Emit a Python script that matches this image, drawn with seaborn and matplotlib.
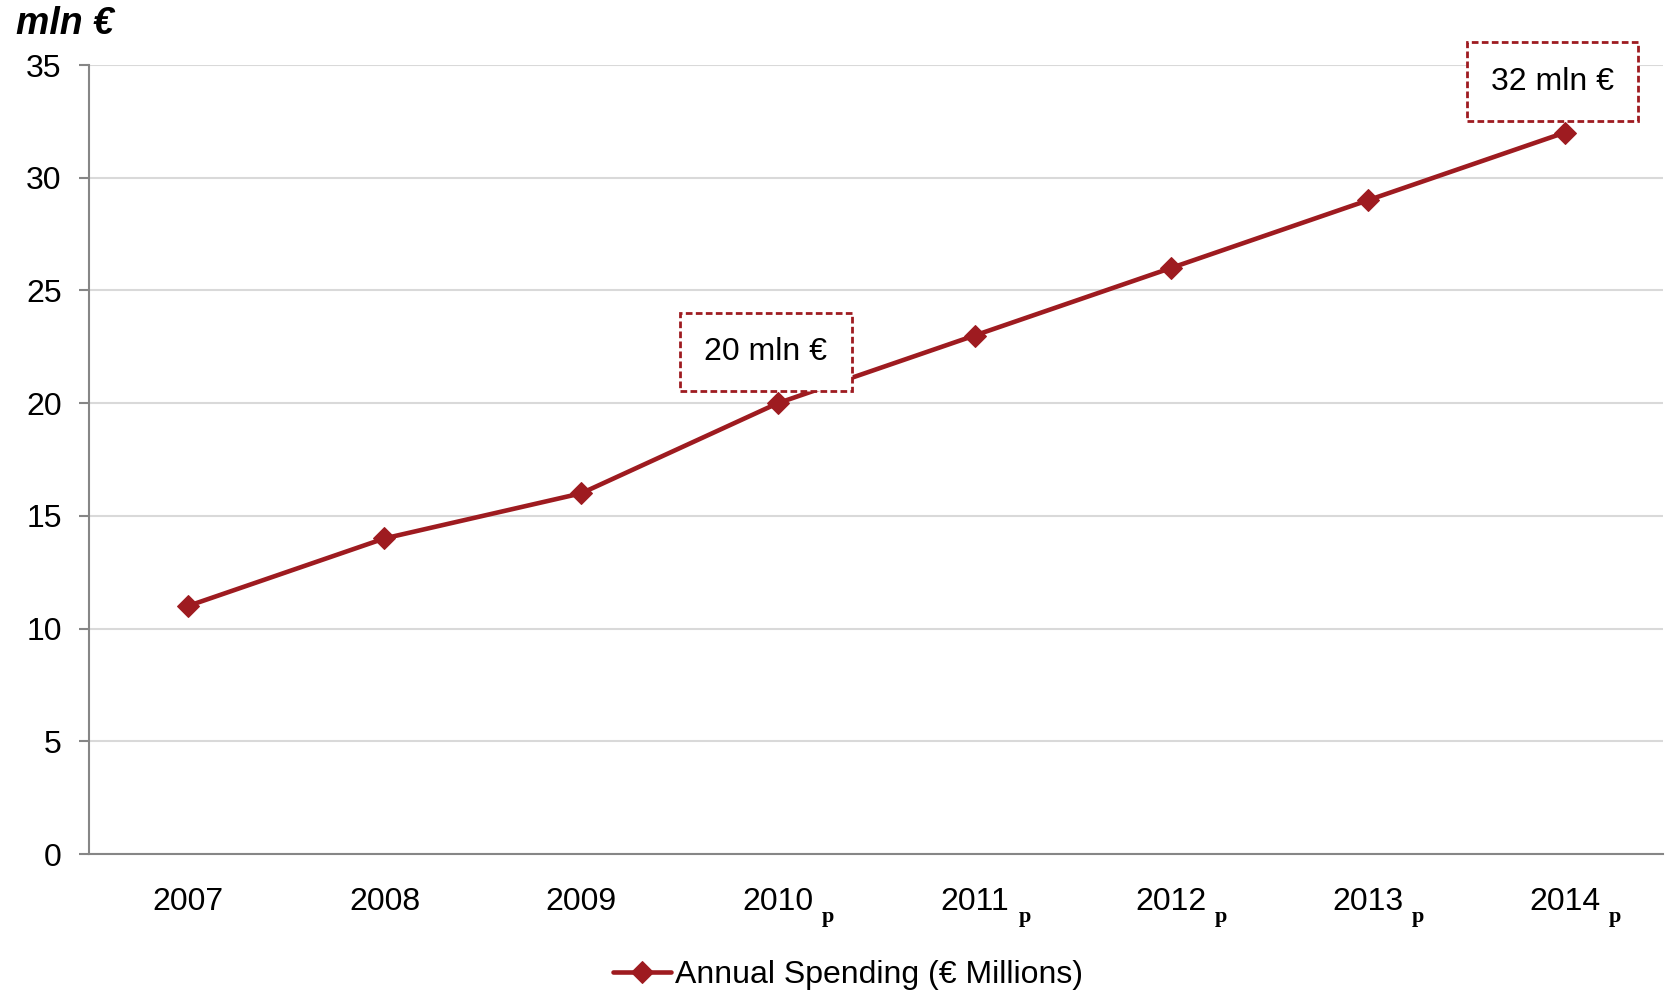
import matplotlib
matplotlib.use("Agg")
import matplotlib.pyplot as plt
import seaborn as sns
import pandas as pd

# Annual spending series
years = ["2007", "2008", "2009", "2010", "2011", "2012", "2013", "2014"]
projected = [False, False, False, True, True, True, True, True]
spending = [11, 14, 16, 20, 23, 26, 29, 32]
callout_years = ["2010", "2014"]
callout_labels = ["20 mln €", "32 mln €"]
y_ticks = [0, 5, 10, 15, 20, 25, 30, 35]

sns.set_theme(style="white")
plt.rcParams["font.family"] = ["Liberation Sans", "DejaVu Sans"]
plt.rcParams["text.color"] = "black"
plt.rcParams["xtick.color"] = "black"
plt.rcParams["ytick.color"] = "black"

RED = "#9E1B20"
GRID = "#D9D9D9"
AXIS = "#868686"
FS = 23

df = pd.DataFrame({"year": years, "spending": spending})

fig = plt.figure(figsize=(16.69, 9.97), dpi=100)
ax = fig.add_axes([0.0536, 0.1434, 0.9428, 0.7914])

sns.lineplot(data=df, x="year", y="spending", ax=ax, color=RED, linewidth=3.3,
             marker="D", markersize=11, markeredgecolor=RED, markerfacecolor=RED,
             sort=False, label="Annual Spending (€ Millions)", zorder=3)

ax.set_xlim(-0.5, len(years) - 0.5)
ax.set_ylim(0, 35)
ax.set_yticks(y_ticks)
ax.set_yticklabels([str(v) for v in y_ticks], fontsize=FS, color="black")
ax.yaxis.grid(True, color=GRID, linewidth=1.5)
ax.set_axisbelow(True)

# Category labels centred, tick marks between categories
ax.set_xticks(range(len(years)))
ax.set_xticklabels(years, fontsize=FS, color="black")
ax.tick_params(axis="x", which="major", length=0, pad=24)
ax.set_xticks([i - 0.5 for i in range(len(years) + 1)], minor=True)
ax.tick_params(axis="x", which="minor", length=7, width=1.5, color=AXIS, direction="out")
ax.tick_params(axis="y", which="major", length=7, width=1.5, color=AXIS,
               direction="out", left=True, pad=13)
ax.set_xlabel("")
ax.set_ylabel("")

for side in ["top", "right"]:
    ax.spines[side].set_visible(False)
for side in ["left", "bottom"]:
    ax.spines[side].set_color(AXIS)
    ax.spines[side].set_linewidth(1.5)

# "p" marker for projected years
for i, proj in enumerate(projected):
    if proj:
        ax.annotate("p", xy=(i, 0), xycoords=("data", "axes fraction"),
                    xytext=(50, -63), textcoords="offset pixels",
                    ha="center", va="center", fontsize=16,
                    family=["Liberation Serif", "DejaVu Serif"], fontweight="bold")

# Callout boxes above the highlighted points
for yr, lab in zip(callout_years, callout_labels):
    i = years.index(yr)
    ax.annotate(lab, xy=(i, spending[i]), xytext=(-12, 51), textcoords="offset pixels",
                ha="center", va="center", fontsize=FS, annotation_clip=False, zorder=5,
                bbox=dict(boxstyle="square,pad=0.76", facecolor="white", edgecolor=RED,
                          linestyle=(0, (2.4, 1.2)), linewidth=2.0))

leg = ax.legend(loc="upper center", bbox_to_anchor=(0.482, -0.118), frameon=False,
                fontsize=FS, handlelength=1.8, handletextpad=0.12, borderaxespad=0)
for t in leg.get_texts():
    t.set_color("black")

fig.text(0.0096, 0.976, "mln €", fontsize=27, fontweight="bold", fontstyle="italic",
         ha="left", va="center", color="black")

fig.savefig("out.png", dpi=100)
